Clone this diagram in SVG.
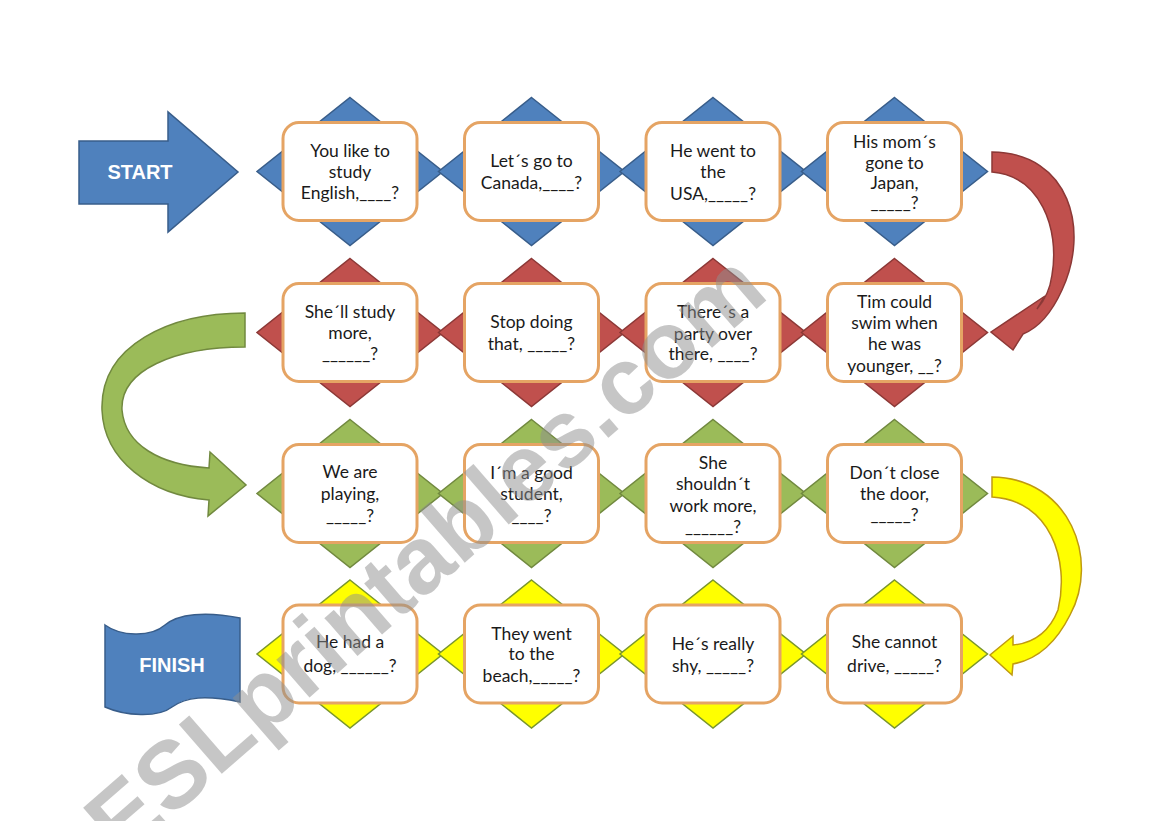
<svg xmlns="http://www.w3.org/2000/svg" xmlns:xlink="http://www.w3.org/1999/xlink" width="1169" height="821" viewBox="0 0 1169 821">
<style>
.bg{fill:#ffffff}
.box{fill:#ffffff;stroke:#e5a464;stroke-width:3}
.blue{fill:#4f81bd;stroke:#385d8a;stroke-width:1.5}
.red{fill:#c0504d;stroke:#8c3836;stroke-width:1.5}
.green{fill:#9bbb59;stroke:#71893f;stroke-width:1.5}
.yellow{fill:#ffff00;stroke:#7a962c;stroke-width:1.5}
.t{font-family:Lato,"Liberation Sans",Arial,sans-serif;font-size:17.5px;fill:#1a1a1a;text-anchor:middle}
.lbl{font-family:"Liberation Sans",Arial,sans-serif;font-size:20px;font-weight:bold;fill:#ffffff;text-anchor:middle}
.wm{font-family:"Liberation Sans",Arial,sans-serif;font-size:95px;font-weight:bold;fill:#8f8f8f;opacity:0.5;text-anchor:middle}
</style>
<defs>
<polygon id="dia" points="0,-74 93,0 0,74 -93,0"/>
<rect id="box" x="-67" y="-49" width="134" height="98" rx="16" ry="16"/>
</defs>
<rect class="bg" x="0" y="0" width="1169" height="821"/>

<g id="start">
<polygon points="79,141 168,141 168,112 238,172 168,232 168,204 79,204" fill="#4f81bd" stroke="#385d8a" stroke-width="1.5"/>
<text class="lbl" x="140" y="179">START</text>
</g>

<g id="finish">
<path d="M105,625 C120,636 150,638 165,625 C178,614 205,611 240,618 L240,702 C205,695 186,697 172,707 C158,718 125,716 105,707 Z" fill="#4f81bd" stroke="#385d8a" stroke-width="1.5"/>
<text class="lbl" x="172" y="672">FINISH</text>
</g>

<g id="connectors">
<path d="M992,152 C1070,153 1090,230 1062,290 C1052,312 1038,328 1023,334 L1013,350 L991,332 L1045,296 L1037,309 C1045,300 1050,290 1052,275 C1060,228 1040,176 992,172 Z" fill="#c0504d" stroke="#8c3836" stroke-width="1.5"/>
<path d="M245,313 C170,313 100,345 102,410 C104,460 150,495 209,500 L208,516 L246,485 L210,452 L209,468 C160,465 125,445 122,410 C120,370 175,347 245,347 Z" fill="#9bbb59" stroke="#71893f" stroke-width="1.5"/>
<path d="M992,477 C1070,478 1100,560 1070,615 C1055,645 1035,660 1013,664 L1012,675 L990,655 L1013,636 L1013,645 C1035,643 1050,630 1058,610 C1070,560 1050,500 992,497 Z" fill="#ffff00" stroke="#c09a10" stroke-width="1.5"/>
</g>

<g id="n1" transform="translate(350,171.5)"><use xlink:href="#dia" class="blue"/><use xlink:href="#box" class="box"/>
<text class="t" y="-15">You like to</text><text class="t" y="6">study</text><text class="t" y="27">English,____?</text></g>
<g id="n2" transform="translate(531.5,171.5)"><use xlink:href="#dia" class="blue"/><use xlink:href="#box" class="box"/>
<text class="t" y="-5">Let´s go to</text><text class="t" y="17">Canada,____?</text></g>
<g id="n3" transform="translate(713,171.5)"><use xlink:href="#dia" class="blue"/><use xlink:href="#box" class="box"/>
<text class="t" y="-15">He went to</text><text class="t" y="6">the</text><text class="t" y="28">USA,_____?</text></g>
<g id="n4" transform="translate(894.5,171.5)"><use xlink:href="#dia" class="blue"/><use xlink:href="#box" class="box"/>
<text class="t" y="-24">His mom´s</text><text class="t" y="-3">gone to</text><text class="t" y="17">Japan,</text><text class="t" y="37">_____?</text></g>

<g id="n5" transform="translate(350,332.5)"><use xlink:href="#dia" class="red"/><use xlink:href="#box" class="box"/>
<text class="t" y="-15">She´ll study</text><text class="t" y="6">more,</text><text class="t" y="27">______?</text></g>
<g id="n6" transform="translate(531.5,332.5)"><use xlink:href="#dia" class="red"/><use xlink:href="#box" class="box"/>
<text class="t" y="-5">Stop doing</text><text class="t" y="17">that, _____?</text></g>
<g id="n7" transform="translate(713,332.5)"><use xlink:href="#dia" class="red"/><use xlink:href="#box" class="box"/>
<text class="t" y="-15">There´s a</text><text class="t" y="7">party over</text><text class="t" y="27">there, ____?</text></g>
<g id="n8" transform="translate(894.5,332.5)"><use xlink:href="#dia" class="red"/><use xlink:href="#box" class="box"/>
<text class="t" y="-25">Tim could</text><text class="t" y="-4">swim when</text><text class="t" y="17">he was</text><text class="t" y="39">younger, __?</text></g>

<g id="n9" transform="translate(350,493.5)"><use xlink:href="#dia" class="green"/><use xlink:href="#box" class="box"/>
<text class="t" y="-16">We are</text><text class="t" y="6">playing,</text><text class="t" y="28">_____?</text></g>
<g id="n10" transform="translate(531.5,493.5)"><use xlink:href="#dia" class="green"/><use xlink:href="#box" class="box"/>
<text class="t" y="-15">I´m a good</text><text class="t" y="6">student,</text><text class="t" y="28">____?</text></g>
<g id="n11" transform="translate(713,493.5)"><use xlink:href="#dia" class="green"/><use xlink:href="#box" class="box"/>
<text class="t" y="-25">She</text><text class="t" y="-4">shouldn´t</text><text class="t" y="18">work more,</text><text class="t" y="39">______?</text></g>
<g id="n12" transform="translate(894.5,493.5)"><use xlink:href="#dia" class="green"/><use xlink:href="#box" class="box"/>
<text class="t" y="-15">Don´t close</text><text class="t" y="6">the door,</text><text class="t" y="27">_____?</text></g>

<g id="n13" transform="translate(350,654)"><use xlink:href="#dia" class="yellow"/><use xlink:href="#box" class="box"/>
<text class="t" y="-6">He had a</text><text class="t" y="18">dog, ______?</text></g>
<g id="n14" transform="translate(531.5,654)"><use xlink:href="#dia" class="yellow"/><use xlink:href="#box" class="box"/>
<text class="t" y="-14">They went</text><text class="t" y="6">to the</text><text class="t" y="28">beach,_____?</text></g>
<g id="n15" transform="translate(713,654)"><use xlink:href="#dia" class="yellow"/><use xlink:href="#box" class="box"/>
<text class="t" y="-4">He´s really</text><text class="t" y="18">shy, _____?</text></g>
<g id="n16" transform="translate(894.5,654)"><use xlink:href="#dia" class="yellow"/><use xlink:href="#box" class="box"/>
<text class="t" y="-6">She cannot</text><text class="t" y="18">drive, _____?</text></g>

<g id="watermark">
<text class="wm" transform="translate(427,557) rotate(-41)" y="29">ESLprintables.com</text>
</g>
</svg>
